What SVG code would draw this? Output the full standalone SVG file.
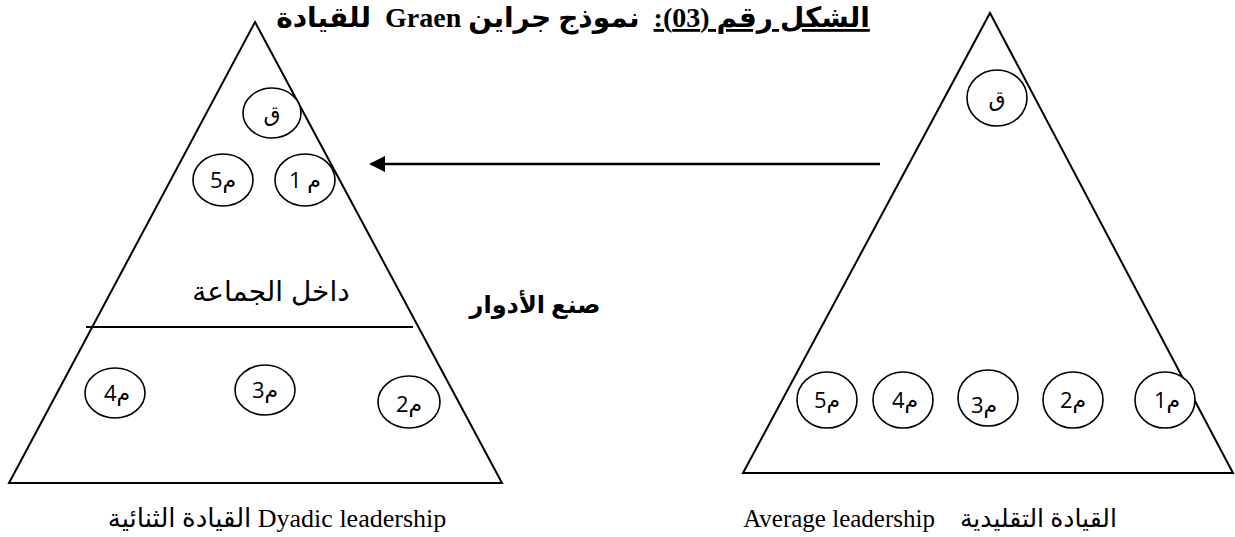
<svg xmlns="http://www.w3.org/2000/svg" width="1235" height="537" viewBox="0 0 1235 537">
<style>
.shape{fill:none;stroke:#000;stroke-width:2}
.circ{fill:#fff;stroke:#000;stroke-width:1.6}
.ct{font-family:"Open Sans","DejaVu Sans",sans-serif;font-size:22px;fill:#000;text-anchor:middle}
.serif{font-family:"Liberation Serif","DejaVu Sans",serif;fill:#000}
.sans{font-family:"Liberation Sans","DejaVu Sans",sans-serif;fill:#000}
</style>
<defs>
<marker id="ah" markerWidth="16" markerHeight="16" refX="14" refY="8" orient="auto" markerUnits="userSpaceOnUse">
<path d="M0,0 L16,8 L0,16 Z" fill="#000"/>
</marker>
</defs>
<g id="title">
<text class="serif" x="573" y="27" font-size="28" font-weight="bold" text-anchor="middle" direction="rtl" xml:space="preserve"><tspan style="text-decoration:underline">الشكل رقم (03):</tspan>  نموذج جراين Graen  للقيادة</text>
</g>
<g id="dyadic">
<polygon class="shape" points="255,22 502,483 9,483"/>
<line class="shape" x1="86" y1="327" x2="413" y2="327"/>
<g id="d-q"><ellipse class="circ" cx="272" cy="113" rx="29" ry="25"/><text class="ct" x="272" y="121">ق</text></g>
<g id="d-m5"><ellipse class="circ" cx="223" cy="180" rx="30" ry="26"/><text class="ct" x="223" y="188">5م</text></g>
<g id="d-m1"><ellipse class="circ" cx="305" cy="180" rx="30" ry="26"/><text class="ct" x="305" y="188">م 1</text></g>
<text class="sans" x="271" y="301" font-size="28" text-anchor="middle">داخل الجماعة</text>
<g id="d-m4"><ellipse class="circ" cx="115" cy="393" rx="30" ry="25"/><text class="ct" x="117" y="401">4م</text></g>
<g id="d-m3"><ellipse class="circ" cx="265" cy="390" rx="30" ry="25"/><text class="ct" x="265" y="398">3م</text></g>
<g id="d-m2"><ellipse class="circ" cx="409" cy="402" rx="31" ry="26"/><text class="ct" x="409" y="412">2م</text></g>
<text class="serif" x="277" y="527" font-size="26" text-anchor="middle">القيادة الثنائية Dyadic leadership</text>
</g>
<g id="average">
<polygon class="shape" points="990,13 1233,473 743,473"/>
<g id="a-q"><ellipse class="circ" cx="997" cy="98" rx="30" ry="28"/><text class="ct" x="997" y="106">ق</text></g>
<g id="a-m5"><ellipse class="circ" cx="827" cy="400" rx="30" ry="28"/><text class="ct" x="827" y="408">5م</text></g>
<g id="a-m4"><ellipse class="circ" cx="903" cy="400" rx="30" ry="28"/><text class="ct" x="905" y="408">4م</text></g>
<g id="a-m3"><ellipse class="circ" cx="988" cy="398" rx="30" ry="28"/><text class="ct" x="984" y="413">3م</text></g>
<g id="a-m2"><ellipse class="circ" cx="1073" cy="400" rx="30" ry="28"/><text class="ct" x="1073" y="408">2م</text></g>
<g id="a-m1"><ellipse class="circ" cx="1165" cy="400" rx="30" ry="28"/><text class="ct" x="1167" y="408">1م</text></g>
<text class="serif" x="930" y="527" font-size="25" text-anchor="middle" xml:space="preserve">Average leadership    القيادة التقليدية</text>
</g>
<g id="connectors">
<line x1="880" y1="164" x2="371" y2="164" stroke="#000" stroke-width="2.5" marker-end="url(#ah)"/>
</g>
<g id="role-label">
<text class="serif" x="535" y="313" font-size="24" font-weight="bold" text-anchor="middle">صنع الأدوار</text>
</g>
</svg>
